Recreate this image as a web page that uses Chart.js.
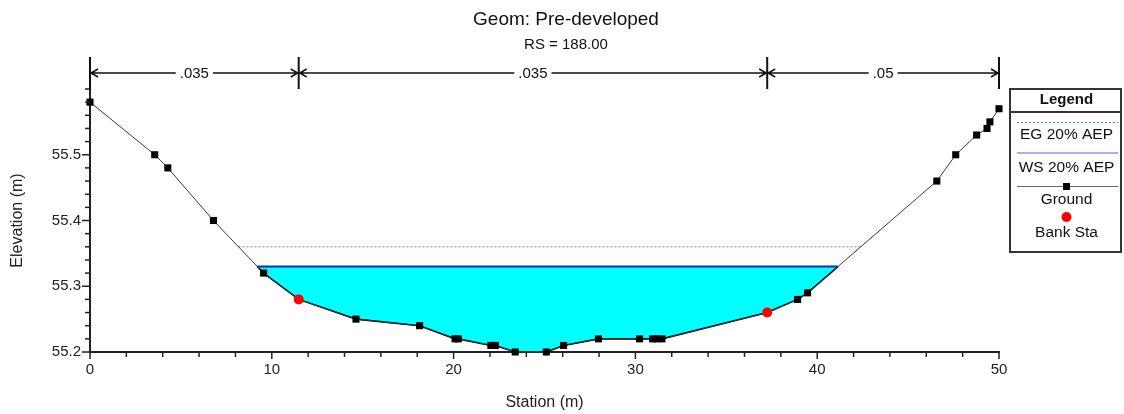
<!DOCTYPE html>
<html>
<head>
<meta charset="utf-8">
<title>Geom: Pre-developed</title>
<script src="https://cdn.jsdelivr.net/npm/chart.js@4.4.1/dist/chart.umd.min.js"></script>
<style>
  html, body { margin: 0; padding: 0; background: #ffffff; }
  #wrap { width: 1124px; height: 414px; }
</style>
</head>
<body>
<div id="wrap"><canvas id="xs" width="1124" height="414"></canvas></div>
<script>
// ---- cross-section data ----
const plotTitle = 'Geom: Pre-developed';
const plotSubtitle = 'RS = 188.00';
const xAxisTitle = 'Station (m)';
const yAxisTitle = 'Elevation (m)';

// surveyed ground points (station, elevation)
const groundStation = [0, 3.56, 4.28, 6.79, 9.55, 11.48, 14.63, 18.13, 20.08, 20.26,
  22.05, 22.3, 23.39, 25.1, 26.05, 27.97, 30.23, 30.95, 31.17, 31.46,
  37.25, 38.92, 39.47, 46.58, 47.62, 48.77, 49.34, 49.5, 50];
const groundElevation = [55.58, 55.50, 55.48, 55.40, 55.32, 55.28, 55.25, 55.24, 55.22, 55.22,
  55.21, 55.21, 55.20, 55.20, 55.21, 55.22, 55.22, 55.22, 55.22, 55.22,
  55.26, 55.28, 55.29, 55.46, 55.50, 55.53, 55.54, 55.55, 55.57];

// left and right bank stations
const bankStation = [11.48, 37.25];
const bankElevation = [55.28, 55.26];

// computed water surface and energy grade
const wsLabel = 'WS 20% AEP';
const wsElevation = 55.33;
const egLabel = 'EG 20% AEP';
const egElevation = 55.36;

// Manning's n for left overbank, channel, right overbank
const manningN = ['.035', '.035', '.05'];

// labelled ticks
const xTickLabels = [0, 10, 20, 30, 40, 50];
const yTickLabels = [55.2, 55.3, 55.4, 55.5];

const FONT = "'Liberation Sans', Arial, sans-serif";
Chart.defaults.font.family = FONT;

// where a horizontal level meets the ground on each side of the channel
function groundCrossings(level) {
  const pts = groundStation.map((s, i) => ({ x: s, y: groundElevation[i] }));
  let left = null, right = null;
  for (let i = 0; i < pts.length - 1; i++) {
    const a = pts[i], b = pts[i + 1];
    if (a.y >= level && b.y < level && left === null) {
      left = a.x + (a.y - level) / (a.y - b.y) * (b.x - a.x);
    }
    if (a.y < level && b.y >= level) {
      right = a.x + (level - a.y) / (b.y - a.y) * (b.x - a.x);
    }
  }
  return [left, right];
}

const groundPts = groundStation.map((s, i) => ({ x: s, y: groundElevation[i] }));
const [wsL, wsR] = groundCrossings(wsElevation);
const [egL, egR] = groundCrossings(egElevation);

// wetted section outline: water edge, ground below the surface, water edge
const wetPts = [{ x: wsL, y: wsElevation }]
  .concat(groundPts.filter(p => p.x > wsL && p.x < wsR))
  .concat([{ x: wsR, y: wsElevation }]);

const bankPts = bankStation.map((s, i) => ({ x: s, y: bankElevation[i] }));

function isLabelled(list, v) {
  return list.some(t => Math.abs(t - v) < 1e-6);
}

// titles, ticks, n-value bar and legend box
const crossSectionDecor = {
  id: 'crossSectionDecor',
  afterDraw(chart) {
    const { ctx, chartArea: a, scales: { x, y } } = chart;
    ctx.save();

    // tick marks
    ctx.strokeStyle = '#222';
    ctx.lineWidth = 1.5;
    x.ticks.forEach(t => {
      const px = x.getPixelForValue(t.value);
      const len = isLabelled(xTickLabels, t.value) ? 7 : 5;
      ctx.beginPath(); ctx.moveTo(px, a.bottom); ctx.lineTo(px, a.bottom + len); ctx.stroke();
    });
    y.ticks.forEach(t => {
      const py = y.getPixelForValue(t.value);
      const len = isLabelled(yTickLabels, t.value) ? 8 : 5;
      ctx.beginPath(); ctx.moveTo(a.left, py); ctx.lineTo(a.left - len, py); ctx.stroke();
    });

    // plot titles
    ctx.fillStyle = '#111';
    ctx.textAlign = 'center';
    ctx.textBaseline = 'middle';
    ctx.font = '19px ' + FONT;
    ctx.fillText(plotTitle, 566, 20);
    ctx.font = '15px ' + FONT;
    ctx.fillText(plotSubtitle, 566, 45);

    // Manning's n bar across the top
    const edges = [x.min].concat(bankStation).concat([x.max]).map(v => x.getPixelForValue(v));
    const barY = 73, barTop = 57, barBot = a.top;
    ctx.strokeStyle = '#111';
    ctx.lineWidth = 2;
    edges.forEach(px => {
      ctx.beginPath(); ctx.moveTo(px, barTop); ctx.lineTo(px, barBot); ctx.stroke();
    });
    ctx.font = '15px ' + FONT;
    ctx.lineWidth = 1.5;
    for (let i = 0; i < manningN.length; i++) {
      const L = edges[i], R = edges[i + 1], mid = (L + R) / 2;
      const half = ctx.measureText(manningN[i]).width / 2 + 4;
      ctx.beginPath();
      ctx.moveTo(L, barY); ctx.lineTo(mid - half, barY);
      ctx.moveTo(mid + half, barY); ctx.lineTo(R, barY);
      // arrow heads pointing at the bars
      ctx.moveTo(L + 8, barY - 4); ctx.lineTo(L + 1, barY); ctx.lineTo(L + 8, barY + 4);
      ctx.moveTo(R - 8, barY - 4); ctx.lineTo(R - 1, barY); ctx.lineTo(R - 8, barY + 4);
      ctx.stroke();
      ctx.fillText(manningN[i], mid, barY + 1);
    }

    // legend box
    const bx = 1010, by = 89, bw = 111, bh = 163, cx = bx + bw / 2 + 1;
    const sx0 = bx + 7, sx1 = bx + bw - 3;
    ctx.strokeStyle = '#333';
    ctx.lineWidth = 2;
    ctx.strokeRect(bx, by, bw, bh);
    ctx.beginPath(); ctx.moveTo(bx, by + 23); ctx.lineTo(bx + bw, by + 23); ctx.stroke();
    ctx.fillStyle = '#111';
    ctx.font = 'bold 15px ' + FONT;
    ctx.fillText('Legend', cx, by + 11);
    ctx.font = '15.5px ' + FONT;

    const ds = chart.data.datasets;
    const byLabel = l => ds.find(d => d.label === l);

    // EG
    const eg = byLabel(egLabel);
    ctx.strokeStyle = eg.borderColor; ctx.lineWidth = 1; ctx.setLineDash(eg.borderDash);
    ctx.beginPath(); ctx.moveTo(sx0, by + 33.5); ctx.lineTo(sx1, by + 33.5); ctx.stroke();
    ctx.setLineDash([]);
    ctx.fillText(eg.label, cx, by + 46);
    // WS
    ctx.strokeStyle = '#a9adf2'; ctx.lineWidth = 2;
    ctx.beginPath(); ctx.moveTo(sx0, by + 64); ctx.lineTo(sx1, by + 64); ctx.stroke();
    ctx.fillText(wsLabel, cx, by + 79);
    // Ground
    const gr = byLabel('Ground');
    ctx.strokeStyle = '#666'; ctx.lineWidth = 1;
    ctx.beginPath(); ctx.moveTo(sx0, by + 97.5); ctx.lineTo(sx1, by + 97.5); ctx.stroke();
    ctx.fillStyle = '#000';
    ctx.fillRect(cx - 3.5, by + 94, 7, 7);
    ctx.fillStyle = '#111';
    ctx.fillText(gr.label, cx, by + 111);
    // Bank stations
    const bk = byLabel('Bank Sta');
    ctx.fillStyle = bk.pointBackgroundColor;
    ctx.beginPath(); ctx.arc(cx, by + 128, 5, 0, Math.PI * 2); ctx.fill();
    ctx.fillStyle = '#111';
    ctx.fillText(bk.label, cx, by + 144);

    ctx.restore();
  }
};

new Chart(document.getElementById('xs'), {
  type: 'line',
  data: {
    datasets: [
      {
        label: 'Bank Sta',
        data: bankPts,
        showLine: false,
        pointStyle: 'circle',
        pointRadius: 5,
        pointBackgroundColor: '#ff0000',
        pointBorderWidth: 0,
        clip: false,
        order: 0
      },
      {
        label: 'Ground',
        data: groundPts,
        borderColor: '#3a3a3a',
        borderWidth: 1,
        pointStyle: 'rect',
        pointRadius: 5,
        pointBackgroundColor: '#000',
        pointBorderWidth: 0,
        fill: false,
        clip: false,
        order: 1
      },
      {
        label: wsLabel,
        data: [{ x: wsL, y: wsElevation }, { x: wsR, y: wsElevation }],
        borderColor: '#1b2aa6',
        borderWidth: 2,
        pointRadius: 0,
        fill: false,
        order: 2
      },
      {
        label: egLabel,
        data: [{ x: egL, y: egElevation }, { x: egR, y: egElevation }],
        borderColor: '#3dab3d',
        borderWidth: 1,
        borderDash: [2, 2],
        pointRadius: 0,
        fill: false,
        order: 3
      },
      {
        label: 'Water',
        data: wetPts,
        borderColor: '#000',
        borderWidth: 1.6,
        backgroundColor: '#00ffff',
        pointRadius: 0,
        fill: { value: wsElevation },
        order: 4
      }
    ]
  },
  options: {
    responsive: false,
    animation: false,
    events: [],
    layout: { padding: { top: 89, right: 125, left: 0, bottom: 0 } },
    plugins: {
      legend: { display: false },
      tooltip: { enabled: false },
      title: { display: false }
    },
    scales: {
      x: {
        type: 'linear',
        min: 0,
        max: 50,
        grid: { display: false, drawTicks: false },
        border: { display: true, color: '#222', width: 2 },
        ticks: {
          stepSize: 2,
          autoSkip: false,
          maxRotation: 0,
          padding: 9,
          color: '#222',
          font: { size: 15 },
          callback: v => isLabelled(xTickLabels, v) ? String(Math.round(v)) : ''
        },
        title: { display: true, text: xAxisTitle, color: '#222', font: { size: 16 }, padding: { top: 0, bottom: 2 } },
        afterFit: s => { s.height = 62; }
      },
      y: {
        type: 'linear',
        min: 55.2,
        max: 55.6,
        grid: { display: false, drawTicks: false },
        border: { display: true, color: '#222', width: 2 },
        ticks: {
          stepSize: 0.02,
          autoSkip: false,
          padding: 9,
          color: '#222',
          font: { size: 15 },
          callback: v => isLabelled(yTickLabels, v) ? v.toFixed(1) : ''
        },
        title: { display: true, text: yAxisTitle, color: '#222', font: { size: 16 }, padding: { top: 8, bottom: 0 } },
        afterFit: s => { s.width = 90; }
      }
    }
  },
  plugins: [crossSectionDecor]
});
</script>
</body>
</html>
